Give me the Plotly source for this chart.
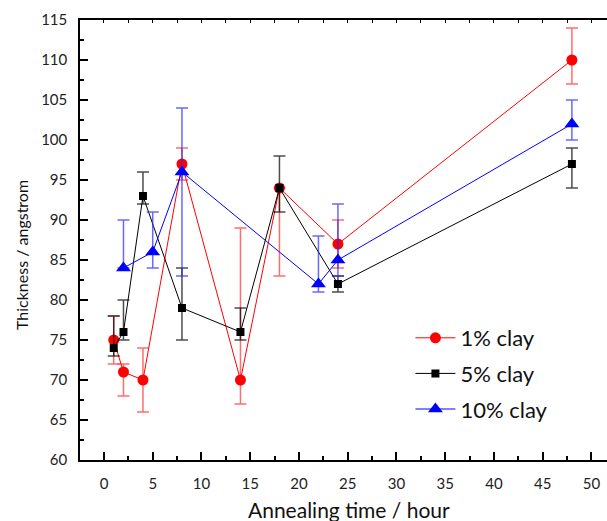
import plotly.graph_objects as go

# Data
x1 = [1, 2, 4, 8, 14, 18, 24, 48]
y1 = [75, 71, 70, 97, 70, 94, 87, 110]
e1_plus = [3, 1, 4, 2, 19, 0, 3, 4]
e1_minus = [3, 3, 4, 2, 3, 11, 3, 3]

x5 = [1, 2, 4, 8, 14, 18, 24, 48]
y5 = [74, 76, 93, 79, 76, 94, 82, 97]
e5_plus = [4, 4, 3, 5, 3, 4, 1, 2]
e5_minus = [1, 1, 1, 4, 1, 3, 1, 3]

x10 = [2, 5, 8, 22, 24, 48]
y10 = [84, 86, 96, 82, 85, 102]
e10_plus = [6, 5, 8, 6, 7, 3]
e10_minus = [0, 2, 13, 1, 2, 2]

names = ["1% clay", "5% clay", "10% clay"]
x_title = "Annealing time / hour"
y_title = "Thickness / angstrom"

FONT = "Lato, 'Open Sans', sans-serif"

fig = go.Figure()

fig.add_trace(go.Scatter(
    x=x1, y=y1, name=names[0], mode="lines+markers",
    line=dict(color="#ff0000", width=1),
    marker=dict(symbol="circle", size=11, color="#ff0000"),
    error_y=dict(type="data", array=e1_plus, arrayminus=e1_minus, symmetric=False,
                 color="rgba(255,60,60,0.75)", thickness=1.5, width=6),
    legendgroup="a",
))
fig.add_trace(go.Scatter(
    x=x5, y=y5, name=names[1], mode="lines+markers",
    line=dict(color="#000000", width=1),
    marker=dict(symbol="square", size=8, color="#000000"),
    error_y=dict(type="data", array=e5_plus, arrayminus=e5_minus, symmetric=False,
                 color="rgba(0,0,0,0.7)", thickness=1.5, width=6),
    legendgroup="b",
))
fig.add_trace(go.Scatter(
    x=x10, y=y10, name=names[2], mode="lines+markers",
    line=dict(color="#0000ff", width=1),
    marker=dict(symbol="triangle-up", size=13, color="#0000ff"),
    error_y=dict(type="data", array=e10_plus, arrayminus=e10_minus, symmetric=False,
                 color="rgba(40,40,255,0.7)", thickness=1.5, width=6),
    legendgroup="c",
))
# invisible trace to carry top axis ticks
fig.add_trace(go.Scatter(x=[x1[0]], y=[y1[0]], xaxis="x2", mode="markers",
                         marker=dict(opacity=0), showlegend=False, hoverinfo="skip"))

xr = [-2.46, 51.6]
fig.update_layout(
    width=607, height=521,
    margin=dict(l=80, r=0, t=20, b=61),
    plot_bgcolor="white", paper_bgcolor="white",
    font=dict(family=FONT, color="#222"),
    showlegend=True,
    legend=dict(x=0.627, y=0.325, xanchor="left", yanchor="top",
                font=dict(size=22, color="#111"), bgcolor="rgba(0,0,0,0)",
                tracegroupgap=4, traceorder="grouped", itemwidth=40),
    xaxis=dict(range=xr, tick0=0, dtick=5, ticks="inside", ticklen=8, tickwidth=1.5,
               tickcolor="black", showline=True, linecolor="black", linewidth=1.5,
               mirror=False, showgrid=False, zeroline=False, automargin=False,
               ticklabelstandoff=9,
               minor=dict(dtick=2.5, ticks="inside", ticklen=4, tickwidth=1.5, tickcolor="black", showgrid=False),
               tickfont=dict(size=15, color="#222")),
    xaxis2=dict(range=xr, overlaying="x", side="top", anchor="y", tick0=0, dtick=2.5,
                ticks="inside", ticklen=3, tickwidth=1, tickcolor="black",
                showline=True, linecolor="black", linewidth=2, automargin=False,
                showticklabels=False, showgrid=False, zeroline=False),
    yaxis=dict(range=[60, 115], tick0=60, dtick=5, ticks="inside", ticklen=8, tickwidth=1.5,
               tickcolor="black", showline=True, linecolor="black", linewidth=1.5,
               showgrid=False, zeroline=False, automargin=False,
               ticklabelstandoff=8,
               minor=dict(dtick=2.5, ticks="inside", ticklen=4, tickwidth=1.5, tickcolor="black", showgrid=False),
               tickfont=dict(size=15, color="#222")),
    annotations=[
        dict(text=x_title, xref="paper", yref="paper", x=(349 - 80) / 527, y=-(510 - 460) / 440,
             xanchor="center", yanchor="middle", showarrow=False,
             font=dict(size=21, color="#111")),
        dict(text=y_title, xref="paper", yref="paper", x=-(80 - 21) / 527, y=(460 - 255) / 440,
             xanchor="center", yanchor="middle", showarrow=False, textangle=-90,
             font=dict(size=16, color="#111")),
    ],
)

fig.write_html("out.html", config={"displayModeBar": False},
               post_script="document.body.style.margin='0';document.body.style.overflow='hidden';")
